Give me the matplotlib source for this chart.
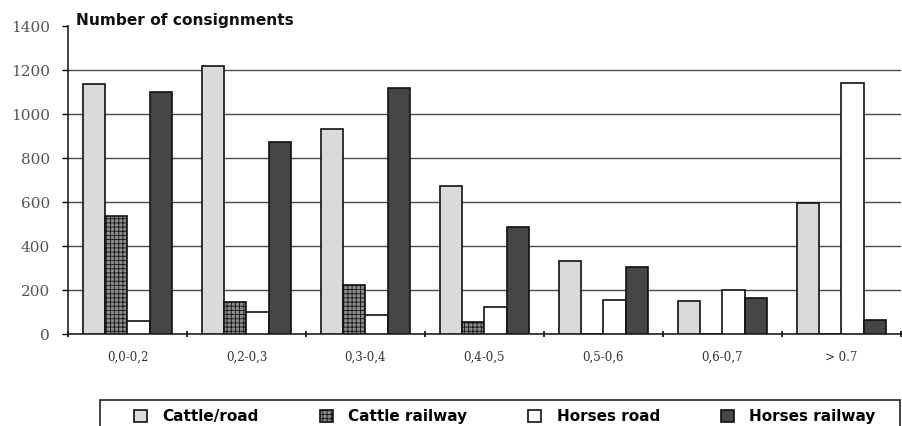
import matplotlib
matplotlib.use("Agg")
import matplotlib.pyplot as plt
from matplotlib.patches import Rectangle
import numpy as np

categories = ["0,0-0,2", "0,2-0,3", "0,3-0,4", "0,4-0,5", "0,5-0,6", "0,6-0,7", "> 0.7"]
cattle_road = [1135, 1220, 930, 675, 330, 150, 595]
cattle_railway = [535, 145, 225, 55, 0, 0, 0]
horses_road = [60, 100, 85, 125, 155, 200, 1140]
horses_railway = [1100, 875, 1120, 485, 305, 165, 65]
series_names = ["Cattle/road", "Cattle railway", "Horses road", "Horses railway"]
y_ticks = [0, 200, 400, 600, 800, 1000, 1200, 1400]

fig = plt.figure(figsize=(9.03, 4.26), dpi=100)
ax = fig.add_axes([68/903, 1-334/426, 833/903, 308/426])

x = np.arange(len(categories))
w = 0.185
styles = [
    dict(facecolor="#dadada", hatch=None),
    dict(facecolor="#8c8c8c", hatch="++++"),
    dict(facecolor="#ffffff", hatch=None),
    dict(facecolor="#464646", hatch=None),
]
plt.rcParams["hatch.color"] = "#3a3a3a"
plt.rcParams["hatch.linewidth"] = 0.6
data = [cattle_road, cattle_railway, horses_road, horses_railway]
handles = []
for i, (vals, st, name) in enumerate(zip(data, styles, series_names)):
    b = ax.bar(x + (i - 1.5) * w, vals, width=w, facecolor=st["facecolor"],
               hatch=st["hatch"], edgecolor="#111111", linewidth=1.2,
               label=name, zorder=3)
    handles.append(b)

ax.set_xlim(-0.5, len(categories) - 0.5)
ax.set_ylim(0, 1400)
ax.set_yticks(y_ticks)
ax.set_yticklabels([str(v) for v in y_ticks], family="DejaVu Serif",
                   fontsize=11, color="#555555")
ax.yaxis.grid(True, color="#4a4a4a", linewidth=1.0, zorder=0)
ax.get_ygridlines()[-1].set_visible(False)
ax.set_axisbelow(True)

ax.set_xticks(np.arange(len(categories) + 1) - 0.5)
ax.set_xticklabels([])
ax.set_xticks(x, minor=True)
ax.set_xticklabels(categories, minor=True, family="DejaVu Serif",
                   fontsize=8.5, color="#333333")
ax.tick_params(axis="x", which="minor", length=0, pad=12)
ax.tick_params(axis="x", which="major", length=5, direction="inout", width=1.2)
ax.tick_params(axis="y", length=4, direction="out", width=1.0, pad=9)

for s in ["top", "right"]:
    ax.spines[s].set_visible(False)
ax.spines["left"].set_color("#222222")
ax.spines["bottom"].set_color("#222222")
ax.spines["left"].set_linewidth(1.2)
ax.spines["bottom"].set_linewidth(1.2)

fig.text(76/903, 1-21/426, "Number of consignments", family="DejaVu Sans",
         fontweight="bold", fontsize=11.1, va="center", ha="left", color="#111111")

# legend frame box (extends past the bottom edge, as in the reference)
fig.patches.append(Rectangle((100/903, -0.05), 800/903, 0.05 + 26/426,
                             transform=fig.transFigure, fill=False,
                             edgecolor="#222222", linewidth=1.2))
leg = fig.legend(handles=handles, labels=series_names, loc="upper left",
                 bbox_to_anchor=(134/903, 1 - 409/426),
                 ncol=4, frameon=False,
                 prop=dict(family="DejaVu Sans", weight="bold", size=11),
                 handlelength=0.85, handleheight=0.85, borderpad=0.0,
                 borderaxespad=0.0, columnspacing=4.0, handletextpad=1.0)

fig.savefig("out.png", dpi=100)
